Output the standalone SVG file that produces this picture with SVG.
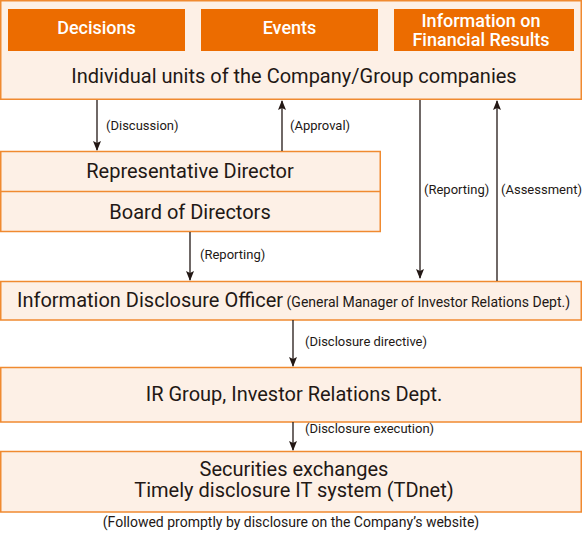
<svg xmlns="http://www.w3.org/2000/svg" width="582" height="535" viewBox="0 0 582 535">
<defs>
<style>
.box{fill:#fdf0e6;stroke:#f08a30;stroke-width:1.5}
.hd{fill:#ec6c00}
.ht{font-family:Roboto,"Liberation Sans",sans-serif;font-size:18px;font-weight:500;fill:#ffffff;text-anchor:middle}
.t{font-family:Roboto,"Liberation Sans",sans-serif;font-size:20px;fill:#231815;text-anchor:middle}
.s{font-family:Roboto,"Liberation Sans",sans-serif;font-size:13px;fill:#231815}
.ft{font-family:Roboto,"Liberation Sans",sans-serif;font-size:14px;fill:#231815;text-anchor:middle}
.ln{stroke:#231815;stroke-width:1.3;fill:none}
</style>
<marker id="ah" markerWidth="10" markerHeight="10" refX="9" refY="4" orient="auto" markerUnits="userSpaceOnUse">
<path d="M0,0 L10,4 L0,8 L2,4 Z" fill="#231815"/>
</marker>
</defs>
<rect width="582" height="535" fill="#ffffff"/>
<g id="units">
<rect class="box" x="0.75" y="0.75" width="580.5" height="98.5"/>
<text class="t" x="294" y="83">Individual units of the Company/Group companies</text>
</g>
<g id="decisions">
<rect class="hd" x="8" y="9" width="177" height="42"/>
<text class="ht" x="96.5" y="34">Decisions</text>
</g>
<g id="events">
<rect class="hd" x="201" y="9" width="177" height="42"/>
<text class="ht" x="289.5" y="34">Events</text>
</g>
<g id="financial">
<rect class="hd" x="394" y="9" width="180" height="42"/>
<text class="ht" x="481" y="27">Information on</text>
<text class="ht" x="481" y="46">Financial Results</text>
</g>
<g id="directors">
<rect class="box" x="0.75" y="151.5" width="379.5" height="80"/>
<line x1="0.75" y1="191.5" x2="380.25" y2="191.5" stroke="#f08a30" stroke-width="1.5"/>
<text class="t" x="190" y="178">Representative Director</text>
<text class="t" x="190" y="219">Board of Directors</text>
</g>
<g id="officer">
<rect class="box" x="0.75" y="281.5" width="580.5" height="38.5"/>
<text x="17" y="307" style="font-family:Roboto,'Liberation Sans',sans-serif;fill:#231815"><tspan font-size="20">Information Disclosure Officer</tspan><tspan font-size="14"> (General Manager of Investor Relations Dept.)</tspan></text>
</g>
<g id="ir">
<rect class="box" x="0.75" y="367.5" width="580.5" height="54.5"/>
<text class="t" x="294" y="401">IR Group, Investor Relations Dept.</text>
</g>
<g id="tdnet">
<rect class="box" x="0.75" y="451.5" width="580.5" height="60.5"/>
<text class="t" x="294" y="476">Securities exchanges</text>
<text class="t" x="294" y="497">Timely disclosure IT system (TDnet)</text>
</g>
<text class="ft" x="291" y="527">(Followed promptly by disclosure on the Company’s website)</text>
<g id="connectors">
<line class="ln" x1="97" y1="100" x2="97" y2="150" marker-end="url(#ah)"/>
<line class="ln" x1="282" y1="151" x2="282" y2="101" marker-end="url(#ah)"/>
<line class="ln" x1="190" y1="232" x2="190" y2="280" marker-end="url(#ah)"/>
<line class="ln" x1="420" y1="100" x2="420" y2="278" marker-end="url(#ah)"/>
<line class="ln" x1="497" y1="281" x2="497" y2="101" marker-end="url(#ah)"/>
<line class="ln" x1="293" y1="320" x2="293" y2="366" marker-end="url(#ah)"/>
<line class="ln" x1="293" y1="422" x2="293" y2="450" marker-end="url(#ah)"/>
<text class="s" x="106" y="130">(Discussion)</text>
<text class="s" x="290" y="130">(Approval)</text>
<text class="s" x="200" y="259">(Reporting)</text>
<text class="s" x="424" y="194">(Reporting)</text>
<text class="s" x="501" y="194">(Assessment)</text>
<text class="s" x="305" y="346">(Disclosure directive)</text>
<text class="s" x="305" y="433">(Disclosure execution)</text>
</g>
</svg>
